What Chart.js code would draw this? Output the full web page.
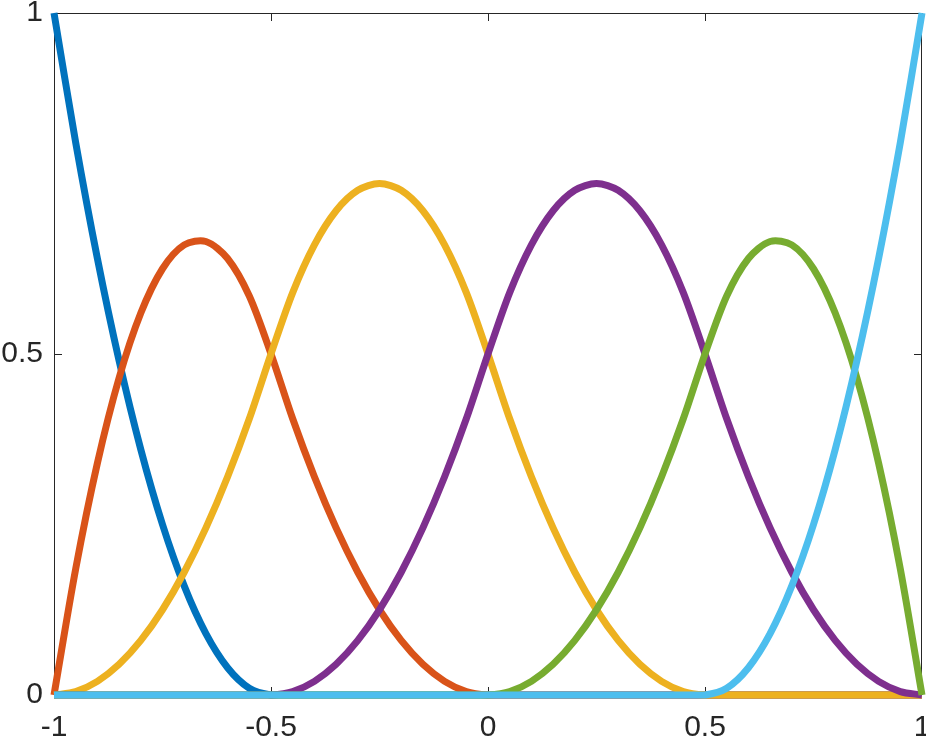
<!DOCTYPE html>
<html>
<head>
<meta charset="utf-8">
<script src="https://cdn.jsdelivr.net/npm/chart.js@4/dist/chart.umd.min.js"></script>
<style>
  body { margin: 0; background: #fff; }
  canvas { display: block; }
</style>
</head>
<body>
<canvas id="myChart" width="926" height="739"></canvas>
<script>
// x positions of the samples
const xValues = [-1, -0.95, -0.9, -0.85, -0.8, -0.75, -0.7, -0.65, -0.6, -0.55, -0.5,
  -0.45, -0.4, -0.35, -0.3, -0.25, -0.2, -0.15, -0.1, -0.05, 0,
  0.05, 0.1, 0.15, 0.2, 0.25, 0.3, 0.35, 0.4, 0.45, 0.5,
  0.55, 0.6, 0.65, 0.7, 0.75, 0.8, 0.85, 0.9, 0.95, 1]

// one list per curve
const blueCurve = [1, 0.81, 0.64, 0.49, 0.36, 0.25, 0.16, 0.09, 0.04, 0.01, 0,
  0, 0, 0, 0, 0, 0, 0, 0, 0, 0,
  0, 0, 0, 0, 0, 0, 0, 0, 0, 0,
  0, 0, 0, 0, 0, 0, 0, 0, 0, 0]
const redCurve = [0, 0.185, 0.34, 0.465, 0.56, 0.625, 0.66, 0.665, 0.64, 0.585, 0.5,
  0.405, 0.32, 0.245, 0.18, 0.125, 0.08, 0.045, 0.02, 0.005, 0,
  0, 0, 0, 0, 0, 0, 0, 0, 0, 0,
  0, 0, 0, 0, 0, 0, 0, 0, 0, 0]
const yellowCurve = [0, 0.005, 0.02, 0.045, 0.08, 0.125, 0.18, 0.245, 0.32, 0.405, 0.5,
  0.59, 0.66, 0.71, 0.74, 0.75, 0.74, 0.71, 0.66, 0.59, 0.5,
  0.405, 0.32, 0.245, 0.18, 0.125, 0.08, 0.045, 0.02, 0.005, 0,
  0, 0, 0, 0, 0, 0, 0, 0, 0, 0]
const purpleCurve = [0, 0, 0, 0, 0, 0, 0, 0, 0, 0, 0,
  0.005, 0.02, 0.045, 0.08, 0.125, 0.18, 0.245, 0.32, 0.405, 0.5,
  0.59, 0.66, 0.71, 0.74, 0.75, 0.74, 0.71, 0.66, 0.59, 0.5,
  0.405, 0.32, 0.245, 0.18, 0.125, 0.08, 0.045, 0.02, 0.005, 0]
const greenCurve = [0, 0, 0, 0, 0, 0, 0, 0, 0, 0, 0,
  0, 0, 0, 0, 0, 0, 0, 0, 0, 0,
  0.005, 0.02, 0.045, 0.08, 0.125, 0.18, 0.245, 0.32, 0.405, 0.5,
  0.585, 0.64, 0.665, 0.66, 0.625, 0.56, 0.465, 0.34, 0.185, 0]
const lightBlueCurve = [0, 0, 0, 0, 0, 0, 0, 0, 0, 0, 0,
  0, 0, 0, 0, 0, 0, 0, 0, 0, 0,
  0, 0, 0, 0, 0, 0, 0, 0, 0, 0,
  0.01, 0.04, 0.09, 0.16, 0.25, 0.36, 0.49, 0.64, 0.81, 1]

const curves = [blueCurve, redCurve, yellowCurve, purpleCurve, greenCurve, lightBlueCurve]
const colors = ["#0072BD", "#D95319", "#EDB120", "#7E2F8E", "#77AC30", "#4DBEEE"]

const xTicks = [-1, -0.5, 0, 0.5, 1]
const yTicks = [0, 0.5, 1]

const axisColor = "#262626"

// box round the plot with inward ticks on all four sides
const boxPlugin = {
  id: 'box',
  beforeDatasetsDraw(chart) {
    const ctx = chart.ctx
    const a = chart.chartArea
    const xs = chart.scales.x
    const ys = chart.scales.y
    const len = 8
    ctx.save()
    ctx.strokeStyle = axisColor
    ctx.lineWidth = 1
    ctx.beginPath()
    ctx.rect(a.left + 0.5, a.top + 0.5, a.right - a.left - 1, a.bottom - a.top - 1)
    xTicks.forEach(v => {
      let px = Math.round(xs.getPixelForValue(v)) + 0.5
      ctx.moveTo(px, a.bottom); ctx.lineTo(px, a.bottom - len)
      ctx.moveTo(px, a.top); ctx.lineTo(px, a.top + len)
    })
    yTicks.forEach(v => {
      let py = Math.round(ys.getPixelForValue(v)) + 0.5
      ctx.moveTo(a.left, py); ctx.lineTo(a.left + len, py)
      ctx.moveTo(a.right, py); ctx.lineTo(a.right - len, py)
    })
    ctx.stroke()
    ctx.restore()
  }
}

const whiteBg = {
  id: 'whiteBg',
  beforeDraw(chart) {
    const ctx = chart.ctx
    ctx.save()
    ctx.fillStyle = '#fff'
    ctx.fillRect(0, 0, chart.width, chart.height)
    ctx.restore()
  }
}

// later curves go on top, as in the picture
let datasets = curves.map((curve, idx) => {
  let obj = {
    data: curve.map((y, i) => ({x: xValues[i], y: y})),
    borderColor: colors[idx],
    backgroundColor: colors[idx],
    borderWidth: 7,
    pointRadius: 0,
    tension: 0.3,
    order: curves.length - idx,
    clip: false
  }
  return obj
})

new Chart("myChart", {
  type: "line",
  data: { datasets: datasets },
  plugins: [whiteBg, boxPlugin],
  options: {
    responsive: false,
    animation: false,
    layout: { padding: { top: 13, right: 4, left: 0, bottom: 0 } },
    plugins: { legend: { display: false }, tooltip: { enabled: false } },
    scales: {
      x: {
        type: 'linear',
        min: -1,
        max: 1,
        border: { display: false },
        grid: { display: false, drawTicks: false },
        afterBuildTicks: scale => { scale.ticks = xTicks.map(v => ({value: v})) },
        afterFit: scale => { scale.height = 44; scale.paddingLeft = 0; scale.paddingRight = 0 },
        ticks: {
          padding: 15,
          color: axisColor,
          font: { family: 'Liberation Sans', size: 30 },
          maxRotation: 0,
          callback: v => String(v)
        }
      },
      y: {
        min: 0,
        max: 1,
        border: { display: false },
        grid: { display: false, drawTicks: false },
        afterBuildTicks: scale => { scale.ticks = yTicks.map(v => ({value: v})) },
        afterFit: scale => { scale.width = 54; scale.paddingTop = 0; scale.paddingBottom = 0 },
        ticks: {
          padding: 11,
          color: axisColor,
          font: { family: 'Liberation Sans', size: 30 },
          callback: v => String(v)
        }
      }
    }
  }
})
</script>
</body>
</html>
